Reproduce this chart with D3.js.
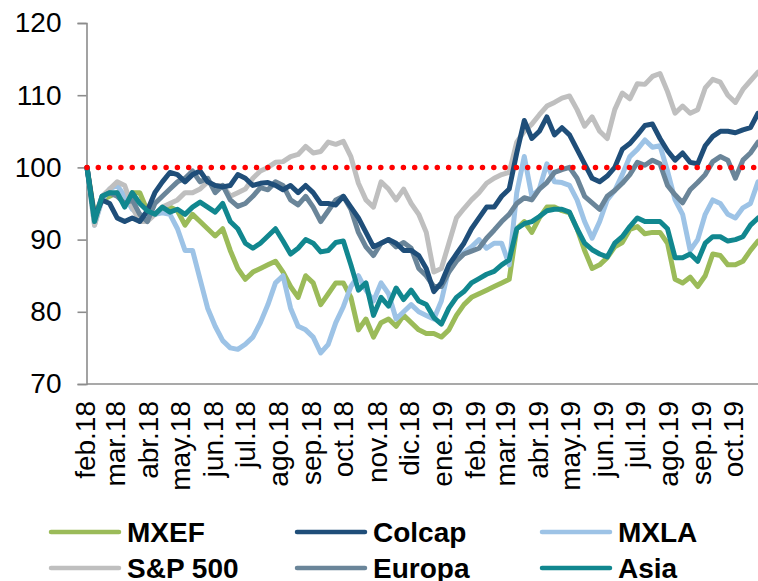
<!DOCTYPE html>
<html>
<head>
<meta charset="utf-8">
<script src="https://cdn.jsdelivr.net/npm/d3@7"></script>
<style>
  body { margin: 0; background: #fff; }
  svg { display: block; font-family: 'Liberation Sans', Arial, sans-serif; }
</style>
</head>
<body>
<div id="chart"></div>
<script>
// Weekly-ish index levels (base 100 = feb.18)
var startDate = new Date(2018, 1, 1)
var endDate = new Date(2019, 9, 23)

var mxef = [100, 93.5, 95.5, 96, 96.5, 95, 96.5, 96.5, 94, 93.5,
  94, 94.5, 94, 92, 93.5, 92.5, 91.5, 90.5, 91.5, 88.5,
  86, 84.5, 85.5, 86, 86.5, 87, 85.5, 83.5, 82, 85,
  84, 81, 82.5, 84, 84, 82, 77.5, 79, 76.5, 78.5,
  79, 78, 79.5, 78.5, 77.5, 77, 77, 76.5, 77.5, 79.5,
  81, 82, 82.5, 83, 83.5, 84, 84.5, 91.5, 92.5, 91,
  93, 94.5, 94.5, 94, 93.7, 91.5, 88.5, 86, 86.5, 87.5,
  89, 89.6, 91.4, 91.8, 90.8, 91, 91, 89.5, 84.5, 84,
  84.8, 83.5, 85, 88, 87.8, 86.5, 86.5, 87, 88.5, 89.8]

var colcap = [100, 93, 95.5, 95, 93, 92.5, 93, 92.5, 94, 96.5,
  98, 99.3, 99, 98, 99, 99.5, 98, 97.5, 97.3, 97.5,
  99, 98.5, 97.5, 97.8, 97.9, 97.5, 96.9, 97.5, 96.5, 97.5,
  96.5, 95, 95, 94.8, 96, 94.5, 93, 91, 89, 89.5,
  90, 89.5, 88.5, 88.5, 87.8, 86, 82.8, 84, 86.5, 88,
  89.5, 91.5, 93, 94.5, 94.5, 96, 97, 102, 106.5, 104,
  105, 107, 104.5, 105.5, 104.5, 102.5, 100.5, 98.5, 98, 98.8,
  100, 102.5, 103.3, 104.5, 105.8, 106, 104, 102.3, 101, 102,
  100.7, 100.5, 103, 104.3, 105, 105, 104.8, 105.2, 105.5, 107.5]

var mxla = [100, 92, 95.5, 97, 97.5, 96, 94.2, 93.5, 93, 93.5,
  93.7, 93.5, 91.5, 88.5, 88.5, 84.5, 80.5, 78, 76, 75,
  74.8, 75.5, 76.5, 78.5, 81, 84, 85, 80.5, 78, 77.5,
  76.5, 74.3, 75.5, 78.5, 80.7, 83.5, 85, 83, 81.5, 84,
  82.5, 79, 80, 81, 80, 79.5, 79, 81.5, 86, 87.5,
  88.2, 89, 90, 88.8, 89.5, 89.5, 86.5, 96.5, 101.5, 96,
  97, 100.5, 98, 97.9, 97.5, 95.5, 92.5, 90.2, 92.5, 95.5,
  96.8, 99, 101.5, 102.5, 103.8, 102.8, 103, 99.5, 95.5, 93.5,
  88.5, 90, 93.5, 95.5, 95, 93.5, 93, 94.4, 95, 98]

var sp500 = [100, 92, 96, 97, 98, 97.5, 94.5, 92.5, 92.5, 93.5,
  94.5, 95, 95.5, 96.5, 96.5, 97, 98, 97.5, 97.5, 96,
  96.5, 97, 98.5, 99.5, 100, 100.7, 100.8, 101.5, 101.8, 102.9,
  102, 102.2, 103.5, 103.2, 103.6, 101.5, 97.8, 95.5, 94.5, 98,
  97, 95.5, 97, 95, 93.5, 91, 85.5, 86, 89.5, 93,
  94.3, 95.5, 96.5, 97.8, 98.5, 99, 99.3, 103.5, 105, 106,
  107.3, 108.5, 109, 109.6, 109.9, 108, 105.7, 107, 105, 104,
  108, 110.3, 109.5, 111.6, 111.5, 112.6, 113, 110.5, 107.5, 108.5,
  107.5, 108, 111, 112.2, 111.8, 110, 109, 110.8, 112, 113.2]

var europa = [100, 93, 96, 96.5, 96, 95, 95.5, 93.5, 92.5, 95,
  96, 97, 98, 98.5, 99.5, 98, 98.5, 96.5, 97.5, 95.5,
  94.6, 95, 96, 97.2, 96.9, 98, 97.5, 95.5, 94.8, 96,
  94.5, 92.5, 94, 95.5, 96, 94.2, 91, 89, 87.8, 89.5,
  90, 89, 89.6, 88.8, 86, 85, 83.5, 83.5, 85.5, 87,
  88, 88.4, 88.8, 90.2, 91.3, 92.5, 93.5, 95, 95.8, 95.5,
  97, 97.9, 99.3, 99.7, 100, 98.5, 96, 95.1, 94.2, 96,
  96.8, 97.8, 99, 100.7, 100.3, 101, 100.5, 97.5, 96.2, 95.1,
  96.9, 97.9, 99, 100.8, 101.5, 101, 98.5, 101, 102, 103.5]

var asia = [100, 92.5, 96, 96.5, 96.5, 94.5, 96.5, 95, 94, 93.5,
  94.5, 93.8, 94.2, 93.5, 94.5, 95.2, 94.5, 93.8, 95, 92.5,
  91.5, 89.5, 88.8, 89.5, 90.5, 91.5, 89.8, 88, 88.8, 90,
  89.5, 88.3, 88.5, 89.6, 89.8, 86.5, 83, 84, 79.5, 82,
  80.8, 83.3, 81.7, 83, 81.5, 81, 79.2, 78.3, 80.5, 82,
  82.8, 84, 84.6, 85.2, 85.6, 86.5, 87.2, 91.5, 92.2, 92.5,
  93.2, 94, 94.2, 94.2, 93.8, 91.5, 89.5, 88.6, 88, 87.6,
  89.5, 90.4, 91.8, 93, 92.5, 92.5, 92.5, 91.5, 87.5, 87.5,
  88, 87, 89.5, 90.4, 90.4, 89.8, 90, 90.4, 92, 93]

var seriesNames = ['MXEF', 'Colcap', 'MXLA', 'S&P 500', 'Europa', 'Asia']
var seriesValues = [mxef, colcap, mxla, sp500, europa, asia]
var seriesColors = ['#9BBB59', '#1F4E79', '#9DC3E6', '#BFBFBF', '#6A8599', '#11878F']
// drawing order (last on top)
var drawOrder = [0, 2, 3, 4, 1, 5]

var monthLabels = ['feb.18', 'mar.18', 'abr.18', 'may.18', 'jun.18', 'jul.18', 'ago.18',
  'sep.18', 'oct.18', 'nov.18', 'dic.18', 'ene.19', 'feb.19', 'mar.19', 'abr.19',
  'may.19', 'jun.19', 'jul.19', 'ago.19', 'sep.19', 'oct.19']
var yTicks = [70, 80, 90, 100, 110, 120]
var baseLevel = 100

;(function () {
  var width = 758, height = 581
  var plotLeft = 87, plotRight = 758, plotTop = 23, plotBottom = 384
  var fontFamily = "'Liberation Sans', Arial, sans-serif"

  var n = mxef.length
  var dates = d3.range(n).map(function (i) {
    return new Date(+startDate + i * (endDate - startDate) / (n - 1))
  })
  var monthDates = monthLabels.map(function (d, i) { return d3.timeMonth.offset(startDate, i) })

  var svg = d3.select('#chart')
    .append('svg')
    .attr('width', width)
    .attr('height', height)

  var x = d3.scaleTime()
    .domain([startDate, endDate])
    .range([plotLeft, plotRight])

  var y = d3.scaleLinear()
    .domain([70, 120])
    .range([plotBottom, plotTop])

  // Y axis
  var yAxis = d3.axisLeft(y)
    .tickValues(yTicks)
    .tickSize(9)
    .tickPadding(16)
  var yg = svg.append('g')
    .attr('transform', 'translate(' + (plotLeft - 0.5) + ',0)')
    .call(yAxis)
  yg.select('.domain').attr('stroke', '#8C8C8C').attr('stroke-width', 1.6)
  yg.selectAll('.tick line').attr('stroke', '#8C8C8C').attr('stroke-width', 1.6)
  yg.selectAll('.tick text')
    .attr('fill', '#000')
    .style('font-size', '28px')
    .style('font-family', fontFamily)

  // X axis (no ticks, rotated month labels)
  var xAxis = d3.axisBottom(x)
    .tickValues(monthDates)
    .tickSize(0)
    .tickFormat(function (d, i) { return monthLabels[i] })
  var xg = svg.append('g')
    .attr('transform', 'translate(0,' + plotBottom + ')')
    .call(xAxis)
  xg.select('.domain')
    .attr('stroke', '#8C8C8C')
    .attr('stroke-width', 1.6)
    .attr('d', 'M' + plotLeft + ',0H' + plotRight)
  xg.selectAll('.tick text')
    .attr('fill', '#000')
    .attr('transform', 'rotate(-90)')
    .attr('text-anchor', 'end')
    .attr('x', -17)
    .attr('y', -2)
    .attr('dy', '0.35em')
    .style('font-size', '28px')
    .style('font-family', fontFamily)

  // Lines
  var line = d3.line()
    .x(function (d, i) { return x(dates[i]) })
    .y(function (d) { return y(d) })

  drawOrder.forEach(function (k) {
    svg.append('path')
      .datum(seriesValues[k])
      .attr('fill', 'none')
      .attr('stroke', seriesColors[k])
      .attr('stroke-width', 5)
      .attr('stroke-linejoin', 'round')
      .attr('stroke-linecap', 'round')
      .attr('d', line)
  })

  // Red dotted reference line at 100
  svg.append('line')
    .attr('x1', plotLeft)
    .attr('x2', plotRight)
    .attr('y1', y(baseLevel))
    .attr('y2', y(baseLevel))
    .attr('stroke', '#FF0000')
    .attr('stroke-width', 5.5)
    .attr('stroke-linecap', 'round')
    .attr('stroke-dasharray', '0 11.3')

  // Legend
  var legend = svg.append('g')
  var colX = [49, 295, 540]
  var rowY = [532, 568]
  seriesNames.forEach(function (name, i) {
    var lx = colX[i % 3], ly = rowY[Math.floor(i / 3)]
    legend.append('line')
      .attr('x1', lx + 2)
      .attr('x2', lx + 70)
      .attr('y1', ly)
      .attr('y2', ly)
      .attr('stroke', seriesColors[i])
      .attr('stroke-width', 4.5)
      .attr('stroke-linecap', 'round')
    legend.append('text')
      .attr('x', lx + 78)
      .attr('y', ly + 10)
      .style('font-size', '28px')
      .style('font-weight', 'bold')
      .text(name)
  })
})()
</script>
</body>
</html>
